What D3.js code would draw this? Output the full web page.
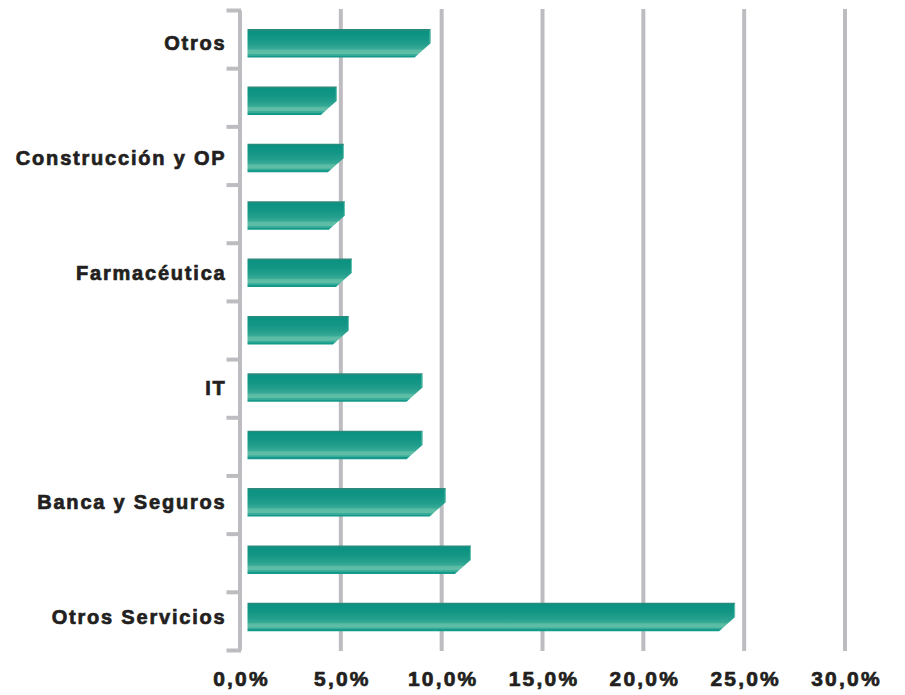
<!DOCTYPE html>
<html>
<head>
<meta charset="utf-8">
<script src="https://cdn.jsdelivr.net/npm/d3@7"></script>
<style>
  html, body { margin: 0; padding: 0; background: #ffffff; }
  svg { display: block; }
  .lbl { font-family: "Liberation Sans", Arial, sans-serif; font-weight: bold; fill: #231f20; }
</style>
</head>
<body>
<svg id="chart" width="905" height="695"></svg>
<script>
// Sector labels (only every other row carries a label) and shares in %
const categories = ["Otros", "", "Construcción y OP", "", "Farmacéutica", "", "IT", "", "Banca y Seguros", "", "Otros Servicios"];
const shares = [9.45, 4.8, 5.15, 5.2, 5.55, 5.4, 9.05, 9.05, 10.2, 11.45, 24.55];
const xTicks = [0, 5, 10, 15, 20, 25, 30];

const svg = d3.select("#chart");
const plotLeft = 240, plotRight = 845, plotTop = 10, plotBottom = 650;
const n = categories.length;

const x = d3.scaleLinear().domain([0, 30]).range([plotLeft, plotRight]);
// Row boundaries for the tick marks on the category axis
const yEdge = d3.scaleLinear().domain([0, n]).range([plotTop, plotBottom]);
// Bar centres
const yBar = d3.scalePoint().domain(d3.range(n)).range([43.25, 617]);
const barH = 28.5;
const cut = 16;          // chamfer on the lower right corner
const barStart = x(0) + 7.5;

const gridColor = "#bdbdc1";

// Bar fill: dark teal on top, lighter towards the bottom with a soft highlight band
const defs = svg.append("defs");
const grad = defs.append("linearGradient").attr("id", "barFill")
  .attr("x1", 0).attr("y1", 0).attr("x2", 0).attr("y2", 1);
[
  [0.00, "#2b8a7c"], [0.05, "#2b8a7c"], [0.06, "#0b9282"], [0.30, "#129584"],
  [0.55, "#249f8d"], [0.70, "#38ab97"], [0.74, "#5abba4"], [0.86, "#5fbea7"],
  [0.88, "#3aae9a"], [0.93, "#33ab97"], [0.94, "#14998a"], [1.00, "#14998a"]
].forEach(([o, c]) => grad.append("stop").attr("offset", o).attr("stop-color", c));

// Vertical gridlines
svg.append("g").selectAll("line").data(xTicks.slice(1)).join("line")
  .attr("x1", d => x(d)).attr("x2", d => x(d))
  .attr("y1", plotTop - 1).attr("y2", plotBottom + 1)
  .attr("stroke", gridColor).attr("stroke-width", 4);

// Category axis with tick marks between rows
const yAxis = d3.axisLeft(yEdge).tickValues(d3.range(n + 1)).tickSize(13).tickSizeOuter(0).tickFormat("");
const ay = svg.append("g").attr("transform", `translate(${plotLeft - 0.5},0)`).call(yAxis);
ay.select(".domain").attr("stroke", gridColor).attr("stroke-width", 4);
ay.selectAll(".tick line").attr("stroke", gridColor).attr("stroke-width", 4).attr("x2", -13).attr("x1", 1.5);

// Bars
svg.append("g").selectAll("path").data(shares).join("path")
  .attr("d", (d, i) => {
    const y0 = yBar(i) - barH / 2, y1 = yBar(i) + barH / 2, xe = x(d);
    const p = d3.path();
    p.moveTo(barStart, y0);
    p.lineTo(xe, y0);
    p.lineTo(xe, y0 + barH / 2);
    p.lineTo(xe - cut, y1);
    p.lineTo(barStart, y1);
    p.closePath();
    return p.toString();
  })
  .attr("fill", "url(#barFill)");

// Light rim on the right end of each bar
svg.append("g").selectAll("line").data(shares).join("line")
  .attr("x1", d => x(d) - 0.5).attr("x2", d => x(d) - 0.5)
  .attr("y1", (d, i) => yBar(i) - barH / 2 + 1).attr("y2", (d, i) => yBar(i))
  .attr("stroke", "#7fd0bd").attr("stroke-width", 1).attr("opacity", 0.8);

// Category labels
svg.append("g").selectAll("text").data(categories).join("text")
  .attr("class", "lbl")
  .attr("x", 226.5).attr("y", (d, i) => yBar(i))
  .attr("dy", "0.36em")
  .attr("text-anchor", "end")
  .attr("font-size", 20)
  .attr("letter-spacing", 1.8)
  .attr("stroke", "#231f20").attr("stroke-width", 0.7)
  .text(d => d);

// Value axis labels
const fmt = v => v.toFixed(1).replace(".", ",") + "%";
const ax = svg.append("g").attr("transform", `translate(1,${686})`)
  .call(d3.axisBottom(x).tickValues(xTicks).tickSize(0).tickPadding(0).tickFormat(fmt));
ax.select(".domain").remove();
ax.selectAll("text")
  .attr("class", "lbl")
  .attr("y", 0).attr("dy", 0)
  .attr("font-size", 21)
  .attr("letter-spacing", 2.2)
  .attr("stroke", "#231f20").attr("stroke-width", 0.7)
  .attr("fill", "#231f20");
ax.attr("font-family", null).attr("font-size", null);
</script>
</body>
</html>
